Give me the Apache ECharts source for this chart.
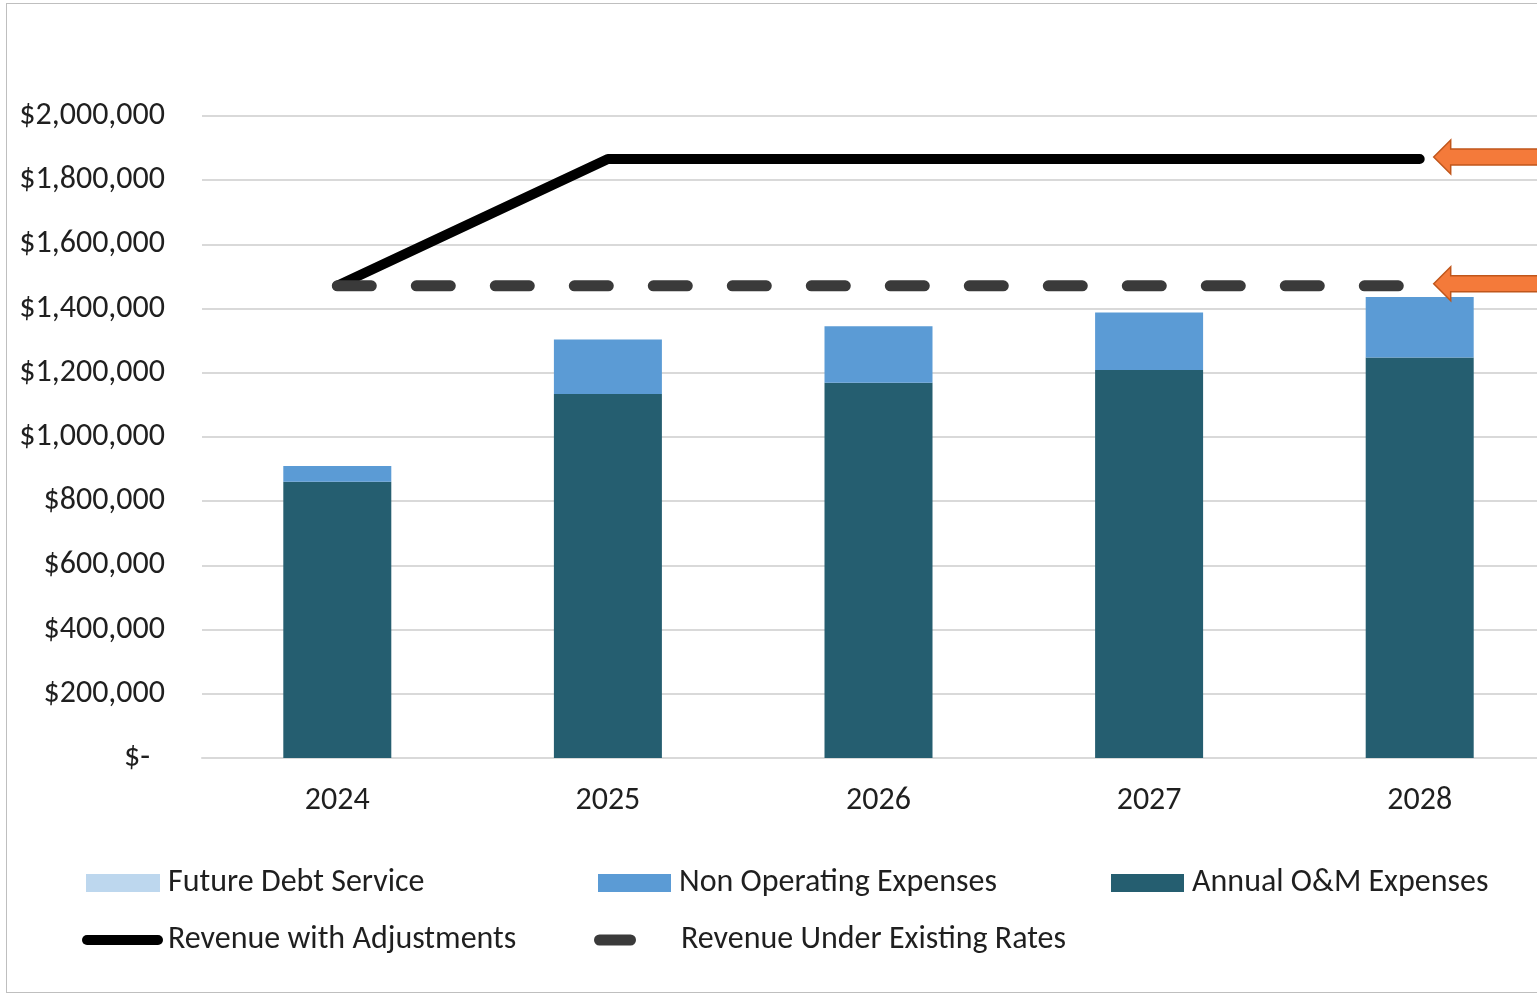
<!DOCTYPE html>
<html><head><meta charset="utf-8">
<script src="https://cdn.jsdelivr.net/npm/echarts@6/dist/echarts.min.js"></script>
<style>
html,body{margin:0;padding:0;background:#fff;overflow:hidden}
#c{position:absolute;left:0;top:0;width:1537px;height:995px}
#b{position:absolute;left:6px;top:3px;width:1600px;height:988px;border:1.5px solid #BFBFBF;pointer-events:none}
</style></head><body><div id="c"></div><div id="b"></div>
<script>
const categories = ['2024', '2025', '2026', '2027', '2028'];
const futureDebtService = [0, 0, 0, 0, 0];
const nonOperatingExpenses = [49000, 170000, 176000, 179000, 188000];
const annualOMExpenses = [860700, 1134000, 1169000, 1209000, 1248000];
const revenueWithAdjustments = [1471000, 1866000, 1866000, 1866000, 1866000];
const revenueExistingRates = [1471000, 1471000, 1471000, 1471000, 1471000];
const yMin = 0, yMax = 2000000, yStep = 200000;
const arrowTargets = [
  [categories[4], revenueWithAdjustments[4]],
  [categories[4], revenueExistingRates[4]]
];

const FONT = 'Carlito, Lato, "Liberation Sans", sans-serif';
const FS = 32;
const TXT = '#1f1f1f';

function legendItem(item, left, top, w, h, textPadLeft) {
  return {
    data: [item], left: left, top: top, itemWidth: w, itemHeight: h, padding: 0,
    textStyle: { fontFamily: FONT, fontSize: FS, color: TXT, padding: [0, 0, 0, textPadLeft] },
    selectedMode: false
  };
}

const chart = echarts.init(document.getElementById('c'), null, { renderer: 'canvas' });
chart.setOption({
  animation: false,
  backgroundColor: 'transparent',
  grid: { left: 202, width: 1353, top: 116, bottom: 237, containLabel: false, outerBoundsMode: 'none' },
  xAxis: {
    type: 'category', data: categories,
    axisLine: { lineStyle: { color: '#D9D9D9', width: 2 } },
    axisTick: { show: false },
    axisLabel: { fontFamily: FONT, fontSize: FS, color: TXT, margin: 27 }
  },
  yAxis: {
    type: 'value', min: yMin, max: yMax, interval: yStep,
    axisLine: { show: false }, axisTick: { show: false },
    splitLine: { lineStyle: { color: '#D9D9D9', width: 2 } },
    axisLabel: {
      fontFamily: FONT, fontSize: FS, color: TXT, margin: 37,
      formatter: v => v === 0 ? '{z|$-}' : '$' + v.toLocaleString('en-US'),
      rich: { z: { fontFamily: FONT, fontSize: FS, color: TXT, padding: [0, 15, 0, 0] } }
    }
  },
  legend: [
    legendItem({ name: 'Future Debt Service', icon: 'rect' }, 86, 867, 74, 18, 3),
    legendItem({ name: 'Non Operating Expenses', icon: 'rect' }, 598, 867, 73, 18, 3),
    legendItem({ name: 'Annual O&M Expenses', icon: 'rect' }, 1111, 867, 73, 18, 3),
    legendItem({ name: 'Revenue with Adjustments',
                 icon: 'path://M5,0H76A5,5,0,0,1,76,10H5A5,5,0,0,1,5,0Z' }, 82, 924, 81, 10, 0),
    legendItem({ name: 'Revenue Under Existing Rates',
                 icon: 'path://M5.5,0H36.5A5.5,5.5,0,0,1,36.5,11H5.5A5.5,5.5,0,0,1,5.5,0Z' }, 594, 924, 42, 11, 40)
  ],
  series: [
    { name: 'Annual O&M Expenses', type: 'bar', stack: 'exp', barWidth: 108,
      itemStyle: { color: '#255E70' }, data: annualOMExpenses },
    { name: 'Non Operating Expenses', type: 'bar', stack: 'exp', barWidth: 108,
      itemStyle: { color: '#5B9BD5' }, data: nonOperatingExpenses },
    { name: 'Future Debt Service', type: 'bar', stack: 'exp', barWidth: 108,
      itemStyle: { color: '#BDD7EE' }, data: futureDebtService },
    { name: 'Revenue with Adjustments', type: 'line', symbol: 'none', z: 5,
      lineStyle: { color: '#000000', width: 10, cap: 'round', join: 'round' },
      itemStyle: { color: '#000000' },
      data: revenueWithAdjustments },
    { name: 'Revenue Under Existing Rates', type: 'line', symbol: 'none', z: 6,
      lineStyle: { color: '#3A3A3A', width: 11, cap: 'round', type: [34, 45] },
      itemStyle: { color: '#3A3A3A' },
      data: revenueExistingRates },
    { name: 'arrows', type: 'custom', clip: false, z: 7, silent: true,
      renderItem: function (params, api) {
        const p = api.coord([api.value(0), api.value(1)]);
        const x = p[0] + 14, y = p[1] - 2;
        return {
          type: 'polygon',
          shape: { points: [[x, y], [x + 17, y - 17], [x + 17, y - 8], [x + 300, y - 8],
                            [x + 300, y + 8], [x + 17, y + 8], [x + 17, y + 17]] },
          style: { fill: '#F47A3A', stroke: '#C0561B', lineWidth: 1.5 }
        };
      },
      data: arrowTargets }
  ]
});
</script></body></html>
